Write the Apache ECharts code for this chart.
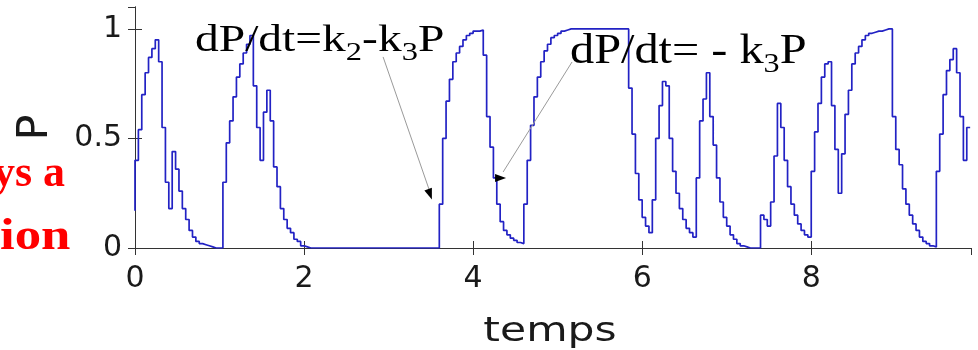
<!DOCTYPE html>
<html><head><meta charset="utf-8">
<script src="https://cdn.jsdelivr.net/npm/echarts@6/dist/echarts.min.js"></script>
<style>html,body{margin:0;padding:0;background:#fff}#c{width:978px;height:350px}</style>
</head><body><div id="c"></div>
<script>
// sampling grid of the signal (temps)
const timeStep = 0.04;
// P values, one per time step (t = 0, 0.04, 0.08, ...)
const pValues = [
  0.17,0.40,0.54,0.70,0.80,0.87,0.91,0.95,0.85,0.55,
  0.30,0.18,0.44,0.36,0.26,0.18,0.13,0.08,0.05,0.03,
  0.02,0.015,0.01,0.005,0,0,0,0.30,0.48,0.58,
  0.69,0.78,0.84,0.89,0.93,0.97,0.74,0.55,0.40,0.62,
  0.72,0.58,0.37,0.28,0.18,0.13,0.09,0.07,0.04,0.03,
  0.01,0.005,0,0,0,0,0,0,0,0,
  0,0,0,0,0,0,0,0,0,0,
  0,0,0,0,0,0,0,0,0,0,
  0,0,0,0,0,0,0,0,0,0,
  0,0.20,0.50,0.67,0.77,0.85,0.89,0.92,0.95,0.97,
  0.98,0.99,0.99,0.995,0.88,0.60,0.46,0.32,0.20,0.12,
  0.08,0.06,0.045,0.035,0.025,0.02,0.20,0.40,0.56,0.69,
  0.78,0.85,0.90,0.93,0.96,0.97,0.98,0.99,0.995,1.0,
  1.0,1.0,1.0,1.0,1.0,1.0,1.0,1.0,1.0,1.0,
  1.0,1.0,1.0,1.0,1.0,1.0,1.0,0.73,0.52,0.34,
  0.22,0.14,0.10,0.07,0.22,0.50,0.65,0.76,0.74,0.50,
  0.35,0.25,0.18,0.13,0.09,0.07,0.05,0.32,0.58,0.68,
  0.80,0.60,0.47,0.32,0.21,0.14,0.10,0.06,0.04,0.02,
  0.01,0.005,0,0,0,0,0.15,0.13,0.10,0.21,
  0.42,0.66,0.55,0.40,0.28,0.20,0.15,0.11,0.08,0.06,
  0.05,0.35,0.53,0.66,0.78,0.84,0.85,0.65,0.45,0.25,
  0.43,0.61,0.72,0.84,0.89,0.92,0.95,0.97,0.98,0.985,
  0.99,0.99,0.995,1.0,1.0,0.60,0.45,0.38,0.27,0.20,
  0.15,0.11,0.08,0.05,0.03,0.02,0.01,0.005,0.35,0.52,
  0.70,0.81,0.86,0.91,0.80,0.60,0.40,0.55
];
const xTickValues = [0, 2, 4, 6, 8];
const yTickValues = [0, 0.5, 1];
const xMax = 9.89;
const yMax = 1.1;
const axisTitleX = 'temps';
const axisTitleY = 'P';
// annotation arrows (data coordinates): [start, end]
const arrow1 = [[2.935, 0.872], [3.49, 0.255]];
const arrow2 = [[5.17, 0.849], [4.355, 0.347]];
const arrowHeads = [[3.49, 0.245, 200], [4.325, 0.32, -90]];
const redLines = ['ys a', 'ion'];

const seriesData = pValues.map((p, i) => [+(i * timeStep).toFixed(2), p]);

const chart = echarts.init(document.getElementById('c'), null, {renderer: 'canvas'});
const tickFont = {fontFamily: 'DejaVu Sans', fontSize: 30, color: '#1a1a1a'};
const frame = {show: true, lineStyle: {color: '#333', width: 1}};
chart.setOption({
  animation: false,
  backgroundColor: '#fff',
  grid: {left: 135, right: 7, top: 7, bottom: 102, containLabel: false, outerBoundsMode: 'none'},
  xAxis: [{
    type: 'value', min: 0, max: xMax, interval: 2, position: 'bottom',
    axisLine: frame, splitLine: {show: false},
    axisTick: {show: true, inside: true, length: 7, lineStyle: {color: '#333'}},
    axisLabel: Object.assign({margin: 16, showMaxLabel: false,
      formatter: v => xTickValues.includes(v) ? String(v) : ''}, tickFont)
  }, {
    type: 'value', min: 0, max: xMax, interval: 2, position: 'top',
    axisLine: frame, splitLine: {show: false},
    axisTick: {show: true, inside: true, length: 7, lineStyle: {color: '#333'}},
    axisLabel: {show: false}
  }],
  yAxis: [{
    type: 'value', min: 0, max: yMax, interval: 0.5, position: 'left',
    name: axisTitleY, nameLocation: 'middle', nameRotate: 90, nameGap: 78,
    nameTextStyle: {fontFamily: 'DejaVu Sans', fontSize: 43, color: '#1a1a1a'},
    axisLine: frame, splitLine: {show: false},
    axisTick: {show: true, inside: true, length: 7, lineStyle: {color: '#333'}},
    axisLabel: Object.assign({margin: 13, showMaxLabel: false,
      formatter: v => yTickValues.includes(v) ? String(v) : ''}, tickFont)
  }, {
    type: 'value', min: 0, max: yMax, interval: 0.5, position: 'right',
    axisLine: frame, splitLine: {show: false},
    axisTick: {show: true, inside: true, length: 7, lineStyle: {color: '#333'}},
    axisLabel: {show: false}
  }],
  series: [{
    type: 'line', step: 'start', data: seriesData, showSymbol: false,
    xAxisIndex: 0, yAxisIndex: 0,
    lineStyle: {color: '#2222c4', width: 1.7},
    markLine: {
      silent: true, symbol: ['none', 'none'], label: {show: false},
      lineStyle: {color: '#9a9a9a', width: 1, type: 'solid'},
      emphasis: {disabled: true},
      data: [
        [{coord: arrow1[0]}, {coord: arrow1[1]}],
        [{coord: arrow2[0]}, {coord: arrow2[1]}]
      ]
    },
    markPoint: {
      silent: true, symbol: 'triangle', symbolSize: [8, 11], label: {show: false},
      itemStyle: {color: '#000'},
      data: arrowHeads.map(a => ({coord: [a[0], a[1]], symbolRotate: a[2]}))
    }
  }],
  graphic: [
    {type: 'text', x: 550, y: 332, scaleX: 1.25, z: 10,
     style: {text: axisTitleX, fontFamily: 'DejaVu Sans', fontSize: 34, fill: '#1a1a1a',
       textAlign: 'center', textVerticalAlign: 'middle'}},
    {type: 'text', x: 65, y: 175, scaleX: 1.0, z: 10,
     style: {text: redLines[0], fontFamily: 'Liberation Serif', fontWeight: 'bold', fontSize: 44,
       fill: '#ff0000', textAlign: 'right', textVerticalAlign: 'middle'}},
    {type: 'text', x: 0, y: 238, scaleX: 1.2, z: 10,
     style: {text: redLines[1], fontFamily: 'Liberation Serif', fontWeight: 'bold', fontSize: 44,
       fill: '#ff0000', textAlign: 'left', textVerticalAlign: 'middle'}},
    {type: 'text', x: 195, y: 41, scaleX: 1.25, z: 10,
     style: {
       text: '{m|dP/dt=k}{s|2}{m|-k}{s|3}{m|P}',
       textAlign: 'left', textVerticalAlign: 'middle',
       rich: {
         m: {fontFamily: 'Liberation Serif', fontSize: 38, lineHeight: 50, fill: '#000', verticalAlign: 'middle'},
         s: {fontFamily: 'Liberation Serif', fontSize: 26, lineHeight: 26, fill: '#000', verticalAlign: 'bottom'}
       }
     }},
    {type: 'text', x: 570, y: 52, scaleX: 1.15, z: 10,
     style: {
       text: '{m|dP/dt= - k}{s|3}{m|P}',
       textAlign: 'left', textVerticalAlign: 'middle',
       rich: {
         m: {fontFamily: 'Liberation Serif', fontSize: 42, lineHeight: 54, fill: '#000', verticalAlign: 'middle'},
         s: {fontFamily: 'Liberation Serif', fontSize: 28, lineHeight: 28, fill: '#000', verticalAlign: 'bottom'}
       }
     }}
  ]
});
</script>
</body></html>
